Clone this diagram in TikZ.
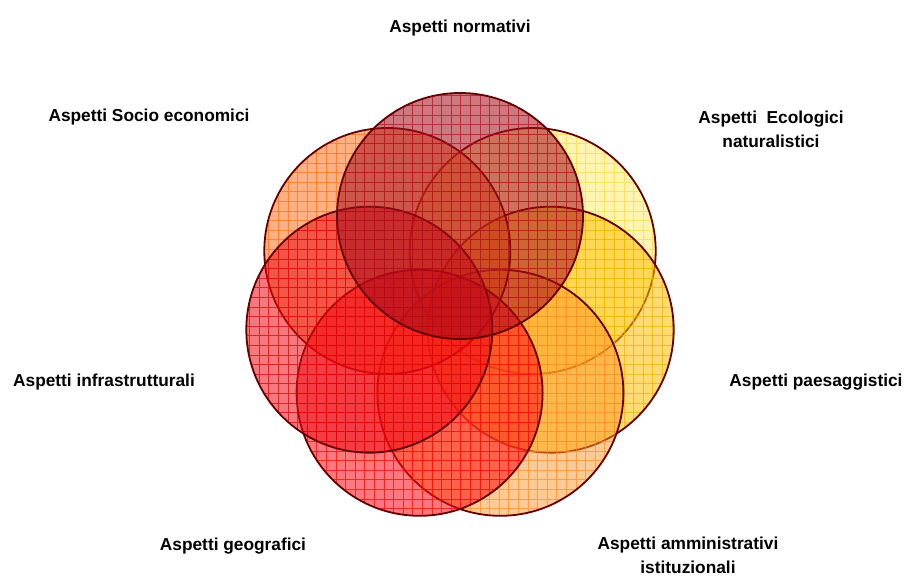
\documentclass[tikz,border=0pt]{standalone}
\usepackage{fontspec}
\setmainfont{Liberation Sans}
\usetikzlibrary{calc}
\definecolor{edge}{RGB}{100,0,0}
\definecolor{fA}{RGB}{165,10,25}\definecolor{gA}{RGB}{175,15,30}
\definecolor{fB}{RGB}{255,100,10}\definecolor{gB}{RGB}{255,110,20}
\definecolor{fC}{RGB}{255,235,100}\definecolor{gC}{RGB}{255,215,60}
\definecolor{fD}{RGB}{235,10,20}\definecolor{gD}{RGB}{220,0,0}
\definecolor{fE}{RGB}{255,190,0}\definecolor{gE}{RGB}{240,175,0}
\definecolor{fF}{RGB}{255,10,20}\definecolor{gF}{RGB}{255,0,0}
\definecolor{fG}{RGB}{255,150,40}\definecolor{gG}{RGB}{255,140,40}
\tikzset{
  lbl/.style={font=\fontsize{17.3}{24}\selectfont\bfseries, align=center, inner sep=0pt},
}
\newcommand{\vennc}[4]{%
  \fill[#2, opacity=#4] (#1) circle[radius=123pt];
  \begin{scope}
    \clip (#1) circle[radius=123pt];
    \draw[#3, opacity=0.7, line width=1pt, step=9.6pt] ($(#1)+(-130,-130)$) grid ($(#1)+(130,130)$);
  \end{scope}
  \draw[edge, line width=1.8pt] (#1) circle[radius=123pt];
}
\begin{document}
\begin{tikzpicture}[x=1pt,y=-1pt]
\useasboundingbox (0,0) rectangle (906,577);
\coordinate (cA) at (460,216);
\coordinate (cC) at (532.7,251);
\coordinate (cE) at (550.7,329.7);
\coordinate (cG) at (500.4,392.8);
\coordinate (cF) at (419.6,392.8);
\coordinate (cD) at (369.3,329.7);
\coordinate (cB) at (387.3,251);
\vennc{cC}{fC}{gC}{0.5}
\vennc{cE}{fE}{gE}{0.55}
\vennc{cG}{fG}{gG}{0.5}
\vennc{cB}{fB}{gB}{0.5}
\vennc{cF}{fF}{gF}{0.55}
\vennc{cD}{fD}{gD}{0.55}
\vennc{cA}{fA}{gA}{0.55}
\node[lbl] (tA) at (460,28) {Aspetti normativi};
\node[lbl] (tB) at (149,117) {Aspetti Socio economici};
\node[lbl] (tC) at (771,129) {Aspetti\ \ Ecologici\\naturalistici};
\node[lbl] (tD) at (104,382) {Aspetti infrastrutturali};
\node[lbl] (tE) at (816,382) {Aspetti paesaggistici};
\node[lbl] (tF) at (233,546) {Aspetti geografici};
\node[lbl] (tG) at (688,555) {Aspetti amministrativi\\istituzionali};
\end{tikzpicture}
\end{document}
